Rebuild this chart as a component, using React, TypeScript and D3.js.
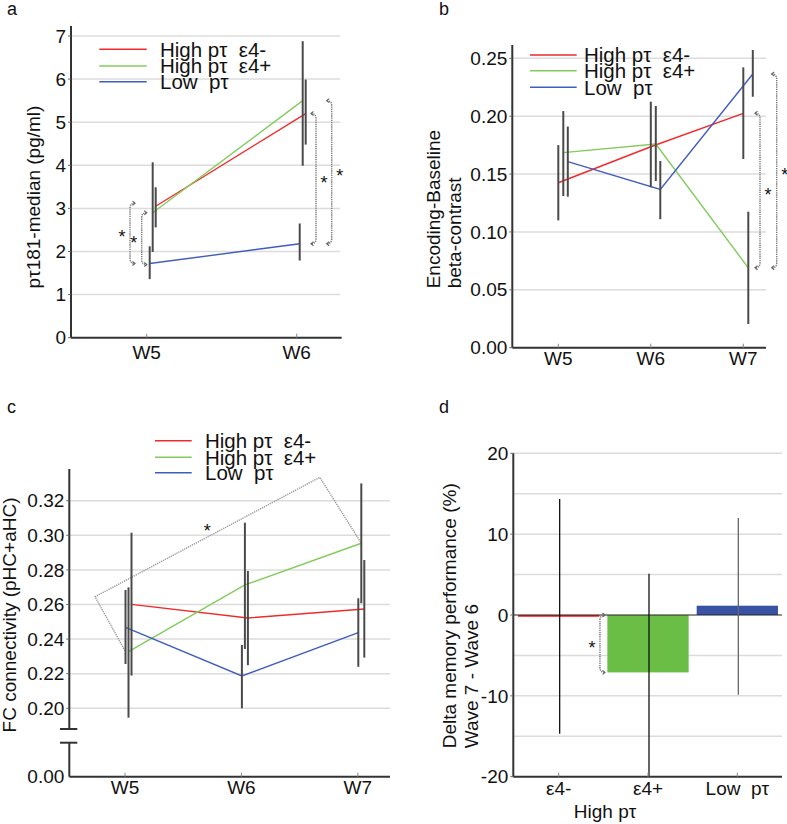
import React from 'react';
import * as d3 from 'd3';

const FONT = '"Liberation Sans", Arial, Helvetica, sans-serif';

const seriesNames = ['High pτ  ε4-', 'High pτ  ε4+', 'Low  pτ'];
const seriesColors = ['#f2292b', '#82cc5c', '#3f5cbf'];
const barColors = ['#ff1f1f', '#6abd45', '#3953a4'];

// Panel a: pτ181 median
const wavesA = ['W5', 'W6'];
const aHighNeg = [3.05, 5.2];
const aHighPos = [2.9, 5.5];
const aLow = [1.72, 2.18];
const aHighNegErr = [[2.56, 3.49], [4.48, 5.99]];
const aHighPosErr = [[1.99, 4.07], [3.99, 6.88]];
const aLowErr = [[1.36, 2.12], [1.79, 2.65]];
const aTicks = [0, 1, 2, 3, 4, 5, 6, 7];

// Panel b: encoding-baseline beta contrast
const wavesB = ['W5', 'W6', 'W7'];
const bHighNeg = [0.1425, 0.1736, 0.2025];
const bHighPos = [0.1685, 0.176, 0.069];
const bLow = [0.1607, 0.1368, 0.2364];
const bHighNegErr = [[0.11, 0.175], [0.1386, 0.2125], [0.163, 0.2422]];
const bHighPosErr = [[0.131, 0.2044], [0.144, 0.2088], [0.0205, 0.1175]];
const bLowErr = [[0.1305, 0.191], [0.111, 0.1613], [0.2168, 0.2572]];
const bTicks = [0, 0.05, 0.1, 0.15, 0.2, 0.25];

// Panel c: FC connectivity
const wavesC = ['W5', 'W6', 'W7'];
const cHighNeg = [0.2601, 0.2522, 0.2574];
const cHighPos = [0.2327, 0.2713, 0.2954];
const cLow = [0.2468, 0.2187, 0.2437];
const cHighNegErr = [[0.2189, 0.3015], [0.2249, 0.2794], [0.2293, 0.2857]];
const cHighPosErr = [[0.1946, 0.2699], [0.2343, 0.3073], [0.2607, 0.33]];
const cLowErr = [[0.2256, 0.2684], [0.2, 0.2366], [0.224, 0.2636]];
const cTicks = [0.2, 0.22, 0.24, 0.26, 0.28, 0.3, 0.32];
const cBracketCorners = [0.2645, 0.3335];

// Panel d: delta memory performance
const catsD = ['ε4-', 'ε4+', 'Low  pτ'];
const dValues = [-0.2, -7.1, 1.15];
const dErr = [[-14.7, 14.36], [-20.3, 5.1], [-9.86, 12.0]];
const dTicks = [-20, -10, 0, 10, 20];
const dGrid = [-15, -10, -5, 5, 10, 15, 20];

const txt = (extra: any = {}) => ({ fontFamily: FONT, fill: '#111', ...extra });

function Bracket({ x, y1, y2, dir }: { x: number; y1: number; y2: number; dir: number }) {
  const h = 5;
  const top = Math.min(y1, y2);
  const bot = Math.max(y1, y2);
  const d = `M${x + dir * h},${top} Q${x},${top} ${x},${top + h} L${x},${bot - h} Q${x},${bot} ${x + dir * h},${bot}`;
  const ax = x + dir * h;
  const arr = `M${ax - dir * 2.5},${top - 2} L${ax},${top} L${ax - dir * 2.5},${top + 2} M${ax - dir * 2.5},${bot - 2} L${ax},${bot} L${ax - dir * 2.5},${bot + 2}`;
  return (
    <g>
      <path d={d} fill="none" stroke="#777" strokeWidth={1.4} strokeDasharray="1.3 0.9" />
      <path d={arr} fill="none" stroke="#666" strokeWidth={1.2} />
      <text x={x - dir * 8} y={(top + bot) / 2 + 10} textAnchor="middle" style={txt({ fontSize: 18 })}>*</text>
    </g>
  );
}

function Legend({ x1, x2, tx, ys }: { x1: number; x2: number; tx: number; ys: number[] }) {
  return (
    <g>
      {seriesNames.map((n, i) => (
        <g key={i}>
          <line x1={x1} x2={x2} y1={ys[i]} y2={ys[i]} stroke={seriesColors[i]} strokeWidth={1.4} />
          <text x={tx} y={ys[i] + 7.4} style={txt({ fontSize: 20.5, whiteSpace: 'pre' })}>{n}</text>
        </g>
      ))}
    </g>
  );
}

function SeriesLines({ cats, x, y, data, offsets }: any) {
  return (
    <g>
      {data.map((s: any, si: number) => {
        const line = d3.line<number>().x((_, i) => x(cats[i]) + offsets[si]).y((v) => y(v));
        return <path key={'l' + si} d={line(s.values) || ''} fill="none" stroke={seriesColors[si]} strokeWidth={1.4} />;
      })}
      {data.map((s: any, si: number) =>
        s.errs.map((e: number[], i: number) => (
          <line key={'e' + si + '_' + i} x1={x(cats[i]) + offsets[si]} x2={x(cats[i]) + offsets[si]} y1={y(e[0])} y2={y(e[1])} stroke="#4a4a4a" strokeWidth={2} />
        ))
      )}
    </g>
  );
}

function YTicks({ ticks, y, axisX, fmt }: any) {
  return (
    <g>
      {ticks.map((t: number) => (
        <g key={t}>
          <line x1={axisX - 3} x2={axisX} y1={y(t)} y2={y(t)} stroke="#666" strokeWidth={1} />
          <text x={axisX - 5} y={y(t)} dy="0.35em" textAnchor="end" style={txt({ fontSize: 19 })}>{fmt(t)}</text>
        </g>
      ))}
    </g>
  );
}

function XTicks({ cats, x, axisY, dy }: any) {
  return (
    <g>
      {cats.map((c: string) => (
        <g key={c}>
          <line x1={x(c)} x2={x(c)} y1={axisY - 4} y2={axisY} stroke="#888" strokeWidth={1} />
          <text x={x(c)} y={axisY + dy} textAnchor="middle" style={txt({ fontSize: 19, whiteSpace: 'pre' })}>{c}</text>
        </g>
      ))}
    </g>
  );
}

export default function App() {
  // ---------- Panel a ----------
  const xA = d3.scalePoint<string>().domain(wavesA).range([146.7, 296.7]);
  const yA = d3.scaleLinear().domain([0, 7]).range([337.7, 36]);
  const aAxisX = 71, aRight = 341.7, aTop = 26;
  const aData = [
    { values: aHighNeg, errs: aHighNegErr },
    { values: aHighPos, errs: aHighPosErr },
    { values: aLow, errs: aLowErr },
  ];
  const aOff = [9, 6, 3];

  // ---------- Panel b ----------
  const xB = d3.scalePoint<string>().domain(wavesB).range([558.3, 743.3]);
  const yB = d3.scaleLinear().domain([0, 0.25]).range([347.7, 58.3]);
  const bAxisX = 512.3, bRight = 766, bTop = 45;
  const bData = [
    { values: bHighNeg, errs: bHighNegErr },
    { values: bHighPos, errs: bHighPosErr },
    { values: bLow, errs: bLowErr },
  ];
  const bOff = [0, 5, 9.5];

  // ---------- Panel c ----------
  const xC = d3.scalePoint<string>().domain(wavesC).range([125, 357.8]);
  const yC = d3.scaleLinear().domain([0.2, 0.32]).range([708.3, 500.7]);
  const cAxisX = 69.3, cRight = 390, cTop = 469, cBase = 776.7;
  const cData = [
    { values: cHighNeg, errs: cHighNegErr },
    { values: cHighPos, errs: cHighPosErr },
    { values: cLow, errs: cLowErr },
  ];
  const cOff = [6.5, 3.5, 0.5];
  const cP0: [number, number] = [xC('W5')! - 0, yC(cHighPos[0]) - 1];
  const cP1: [number, number] = [xC('W5')! - 30, yC(cBracketCorners[0])];
  const cP2: [number, number] = [xC('W7')! - 38, yC(cBracketCorners[1])];
  const cP3: [number, number] = [xC('W7')! + cOff[1], yC(cHighPos[2])];
  const cPath = d3.line()([cP0, cP1, cP2, cP3]) || '';

  // ---------- Panel d ----------
  const xD = d3.scaleBand<string>().domain(catsD).range([514, 782]).paddingInner(0.09).paddingOuter(0.045);
  const yD = d3.scaleLinear().domain([-20, 20]).range([776.7, 453.3]);
  const dAxisX = 513.3, dRight = 782, dBase = 776.7;
  const xDc = (c: string) => xD(c)! + xD.bandwidth() / 2;

  return (
    <svg width={787} height={824} style={{ position: 'absolute', left: 0, top: 0, background: '#fff' }}>
      <rect width={787} height={824} fill="#fff" />

      {/* Panel labels */}
      <text x={7} y={15} style={txt({ fontSize: 18 })}>a</text>
      <text x={439} y={15} style={txt({ fontSize: 18 })}>b</text>
      <text x={7} y={413} style={txt({ fontSize: 18 })}>c</text>
      <text x={439} y={413} style={txt({ fontSize: 18 })}>d</text>

      {/* ================= Panel a ================= */}
      <g>
        {aTicks.filter((t) => t > 0).map((t) => (
          <line key={t} x1={aAxisX} x2={aRight - 1.5} y1={yA(t)} y2={yA(t)} stroke="#dcdcdc" strokeWidth={1.5} />
        ))}
        <Legend x1={99.3} x2={146.7} tx={160} ys={[49.3, 66, 81.7]} />
        <SeriesLines cats={wavesA} x={xA} y={yA} data={aData} offsets={aOff} />
        <Bracket x={xA('W5')! - 16.7} y1={yA(aHighNeg[0]) - 3} y2={yA(aLow[0])} dir={1} />
        <Bracket x={xA('W5')! - 5} y1={yA(aHighPos[0])} y2={yA(aLow[0]) + 1} dir={1} />
        <Bracket x={xA('W6')! + 19.3} y1={yA(aHighNeg[1])} y2={yA(aLow[1])} dir={-1} />
        <Bracket x={xA('W6')! + 35} y1={yA(aHighPos[1])} y2={yA(aLow[1])} dir={-1} />
        <line x1={aAxisX} x2={aAxisX} y1={aTop} y2={yA(0)} stroke="#333" strokeWidth={2} />
        <line x1={aAxisX} x2={aRight} y1={yA(0)} y2={yA(0)} stroke="#333" strokeWidth={2} />
        <YTicks ticks={aTicks} y={yA} axisX={aAxisX} fmt={(t: number) => String(t)} />
        <XTicks cats={wavesA} x={xA} axisY={yA(0)} dy={21} />
        <text transform={`translate(33.5,197) rotate(-90)`} dy="0.35em" textAnchor="middle" style={txt({ fontSize: 19 })}>pτ181-median (pg/ml)</text>
      </g>

      {/* ================= Panel b ================= */}
      <g>
        {bTicks.filter((t) => t > 0).map((t) => (
          <line key={t} x1={bAxisX} x2={bRight} y1={yB(t)} y2={yB(t)} stroke="#dcdcdc" strokeWidth={1.5} />
        ))}
        <Legend x1={530} x2={576.7} tx={584} ys={[55, 70.7, 87.3]} />
        <SeriesLines cats={wavesB} x={xB} y={yB} data={bData} offsets={bOff} />
        <Bracket x={xB('W7')! + 16.7} y1={yB(bHighNeg[2])} y2={yB(bHighPos[2])} dir={-1} />
        <Bracket x={xB('W7')! + 33.4} y1={yB(bLow[2])} y2={yB(bHighPos[2])} dir={-1} />
        <line x1={bAxisX} x2={bAxisX} y1={bTop} y2={yB(0)} stroke="#333" strokeWidth={2} />
        <line x1={bAxisX} x2={bRight} y1={yB(0)} y2={yB(0)} stroke="#333" strokeWidth={2} />
        <YTicks ticks={bTicks} y={yB} axisX={bAxisX} fmt={d3.format('.2f')} />
        <XTicks cats={wavesB} x={xB} axisY={yB(0)} dy={17.5} />
        <text transform={`translate(433,288.3) rotate(-90)`} dy="0.35em" textAnchor="start" style={txt({ fontSize: 19 })}>Encoding-Baseline</text>
        <text transform={`translate(454,288.3) rotate(-90)`} dy="0.35em" textAnchor="start" style={txt({ fontSize: 19 })}>beta-contrast</text>
      </g>

      {/* ================= Panel c ================= */}
      <g>
        {cTicks.map((t) => (
          <line key={t} x1={cAxisX} x2={cRight} y1={yC(t)} y2={yC(t)} stroke="#dcdcdc" strokeWidth={1.5} />
        ))}
        <Legend x1={155} x2={191.7} tx={205} ys={[440.7, 457.3, 472.7]} />
        <path d={cPath} fill="none" stroke="#999" strokeWidth={1.4} strokeDasharray="1.3 0.9" strokeLinejoin="round" />
        <text x={207.3} y={536.7} textAnchor="middle" style={txt({ fontSize: 18 })}>*</text>
        <SeriesLines cats={wavesC} x={xC} y={yC} data={cData} offsets={cOff} />
        <line x1={cAxisX} x2={cAxisX} y1={cTop} y2={729} stroke="#333" strokeWidth={2} />
        <line x1={cAxisX} x2={cAxisX} y1={742.7} y2={cBase} stroke="#333" strokeWidth={2} />
        <line x1={60} x2={77.3} y1={729} y2={729} stroke="#333" strokeWidth={2} />
        <line x1={60} x2={77.3} y1={742.7} y2={742.7} stroke="#333" strokeWidth={2} />
        <line x1={cAxisX} x2={cRight} y1={cBase} y2={cBase} stroke="#333" strokeWidth={2} />
        <YTicks ticks={cTicks} y={yC} axisX={cAxisX} fmt={d3.format('.2f')} />
        <text x={cAxisX - 5} y={cBase} dy="0.35em" textAnchor="end" style={txt({ fontSize: 19 })}>0.00</text>
        <XTicks cats={wavesC} x={xC} axisY={cBase} dy={17.7} />
        <text transform={`translate(9,615) rotate(-90)`} dy="0.35em" textAnchor="middle" style={txt({ fontSize: 19 })}>FC connectivity (pHC+aHC)</text>
      </g>

      {/* ================= Panel d ================= */}
      <g>
        {dGrid.map((t) => (
          <line key={t} x1={dAxisX} x2={dRight} y1={yD(t)} y2={yD(t)} stroke="#dcdcdc" strokeWidth={1.5} />
        ))}
        {catsD.map((c, i) => {
          const v = dValues[i];
          const y0 = yD(0);
          const yv = yD(v);
          return (
            <rect key={c} x={xD(c)} width={xD.bandwidth()} y={Math.min(y0, yv)} height={Math.max(1.8, Math.abs(yv - y0))} fill={barColors[i]} />
          );
        })}
        <line x1={dAxisX} x2={dRight} y1={yD(0)} y2={yD(0)} stroke="#222" strokeWidth={1.2} />
        {catsD.map((c, i) => (
          <line key={'e' + c} x1={xDc(c) + 1} x2={xDc(c) + 1} y1={yD(Math.max(dErr[i][0], -20))} y2={yD(dErr[i][1])} stroke={i === 2 ? '#666' : '#111'} strokeWidth={1.3} />
        ))}
        <Bracket x={xD('ε4+')! - 7.4} y1={yD(0)} y2={yD(dValues[1])} dir={1} />
        <line x1={dAxisX} x2={dAxisX} y1={yD(20)} y2={dBase} stroke="#333" strokeWidth={2} />
        <line x1={dAxisX} x2={dRight} y1={dBase} y2={dBase} stroke="#333" strokeWidth={2} />
        <YTicks ticks={dTicks} y={yD} axisX={dAxisX} fmt={(t: number) => String(t)} />
        <XTicks cats={catsD} x={xDc} axisY={dBase} dy={18.3} />
        <text x={605} y={818.3} textAnchor="middle" style={txt({ fontSize: 19 })}>High pτ</text>
        <text transform={`translate(449,748.3) rotate(-90)`} dy="0.35em" textAnchor="start" style={txt({ fontSize: 19 })}>Delta memory performance (%)</text>
        <text transform={`translate(471.5,748.3) rotate(-90)`} dy="0.35em" textAnchor="start" style={txt({ fontSize: 19 })}>Wave 7 - Wave 6</text>
      </g>
    </svg>
  );
}
